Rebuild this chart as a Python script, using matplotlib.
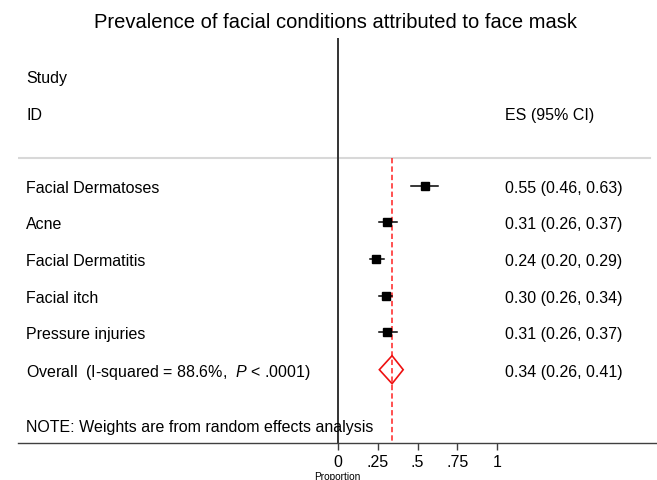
import matplotlib
matplotlib.use('Agg')
import matplotlib.pyplot as plt
from matplotlib.patches import Polygon

plt.rcParams['font.family'] = ['Liberation Sans', 'DejaVu Sans']
plt.rcParams['mathtext.fontset'] = 'custom'
plt.rcParams['mathtext.rm'] = 'Liberation Sans'
plt.rcParams['mathtext.it'] = 'Liberation Sans:italic'

# ── datos ────────────────────────────────────────────────────────────────────
estudios = ['Facial Dermatoses', 'Acne', 'Facial Dermatitis', 'Facial itch', 'Pressure injuries']
es = [0.55, 0.31, 0.24, 0.30, 0.31]
ci_lo = [0.46, 0.26, 0.20, 0.26, 0.26]
ci_hi = [0.63, 0.37, 0.29, 0.34, 0.37]

overall_label = 'Overall  (I-squared = 88.6%,  $P$ < .0001)'
overall_es, overall_lo, overall_hi = 0.34, 0.26, 0.41

ticks = [0, 0.25, 0.5, 0.75, 1]
tick_labels = ['0', '.25', '.5', '.75', '1']

# ── figura (coordenadas verticales en píxeles) ───────────────────────────────
W, H = 657, 481
fig = plt.figure(figsize=(W / 100, H / 100), dpi=100)
x0_px, scale = 338.0, 159.0          # posición del 0 y px por unidad
ax_left, ax_right, ax_top, ax_bot = 18, 657, 39, 443.5
ax = fig.add_axes([ax_left / W, (H - ax_bot) / H,
                   (ax_right - ax_left) / W, (ax_bot - ax_top) / H])
ax.set_xlim((ax_left - x0_px) / scale, (ax_right - x0_px) / scale)
ax.set_ylim(ax_bot, ax_top)


def px(x):
    return (x - x0_px) / scale


fs = 11.5
dy = 1.5                              # corrección vertical del texto
y_rows = [186.7 + 36.7 * i for i in range(len(estudios))]
y_overall = 370.7

# líneas de referencia
ax.axhline(159, xmin=0, xmax=(650 - ax_left) / (ax_right - ax_left),
           color='#d8d8d8', lw=1.5, zorder=1)
ax.axvline(0, color='#333333', lw=1.4, zorder=2)
ax.vlines(overall_es, 159, ax_bot, color='#ff2020', lw=1.1,
          linestyles=(0, (3.5, 2.0)), zorder=2)

# estudios
for nombre, e, lo, hi, y in zip(estudios, es, ci_lo, ci_hi, y_rows):
    ax.plot([lo, hi], [y, y], color='black', lw=1.1, zorder=3)
    ax.plot(e, y, marker='s', ms=5.2, color='black', zorder=4)
    ax.text(px(26), y + dy, nombre, fontsize=fs, va='center', ha='left')
    ax.text(px(505), y + dy, f'{e:.2f} ({lo:.2f}, {hi:.2f})',
            fontsize=fs, va='center', ha='left')

# diamante global
diamante = Polygon([(overall_lo, y_overall), (overall_es, y_overall - 14),
                    (overall_hi, y_overall), (overall_es, y_overall + 14)],
                   closed=True, fill=False, edgecolor='#ee1010', lw=1.2, zorder=3)
ax.add_patch(diamante)
ax.text(px(26), y_overall + dy, overall_label, fontsize=fs, va='center', ha='left')
ax.text(px(505), y_overall + dy,
        f'{overall_es:.2f} ({overall_lo:.2f}, {overall_hi:.2f})',
        fontsize=fs, va='center', ha='left')

# encabezados y nota
ax.text(px(26), 77 + dy, 'Study', fontsize=fs, va='center', ha='left')
ax.text(px(26), 114 + dy, 'ID', fontsize=fs, va='center', ha='left')
ax.text(px(505), 114 + dy, 'ES (95% CI)', fontsize=fs, va='center', ha='left')
ax.text(px(26), 426 + dy, 'NOTE: Weights are from random effects analysis',
        fontsize=fs, va='center', ha='left')

# ejes
for s in ['left', 'top', 'right']:
    ax.spines[s].set_visible(False)
ax.spines['bottom'].set_color('#404040')
ax.spines['bottom'].set_linewidth(1.0)
ax.set_yticks([])
ax.set_xticks(ticks)
ax.set_xticklabels(tick_labels)
ax.tick_params(axis='x', length=5, width=1, color='#404040',
               labelsize=11.5, pad=3.5)
ax.set_xlabel('Proportion', fontsize=7.3, labelpad=1)

fig.text(335 / W, 1 - 23 / H, 'Prevalence of facial conditions attributed to face mask',
         fontsize=14.5, ha='center', va='center')

fig.savefig('out.png', dpi=100)
